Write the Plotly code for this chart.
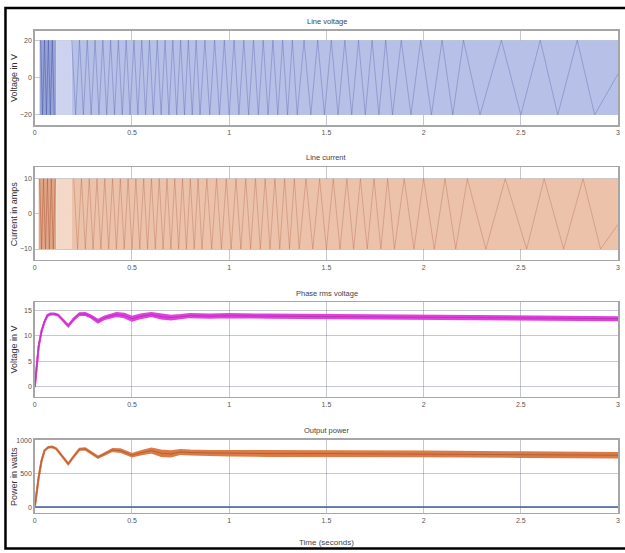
import plotly.graph_objects as go

# ---------------- data ----------------
x_tick_vals = [0, 0.5, 1, 1.5, 2, 2.5, 3]
x_tick_text = ["0", "0.5", "1", "1.5", "2", "2.5", "3"]

# Line voltage: envelope amplitude, band segments, visible zigzag vertices
volt_amp = 20
volt_seg_start = [0.025, 0.11, 0.19]
volt_seg_end = [0.11, 0.19, 3.0]
volt_zig_t = [0.19, 0.21, 0.23, 0.25, 0.27, 0.29, 0.31, 0.33, 0.35, 0.37, 0.39, 0.41,
              0.43, 0.45, 0.47, 0.49, 0.51, 0.53, 0.55, 0.57, 0.59, 0.61, 0.63, 0.65,
              0.67, 0.69, 0.71, 0.73, 0.75, 0.77, 0.79, 0.81, 0.83, 0.85,
              0.875, 0.9, 0.925, 0.95, 0.975, 1.0, 1.025, 1.05, 1.075, 1.1, 1.125,
              1.15, 1.175, 1.2, 1.225, 1.25, 1.275, 1.3, 1.325, 1.35,
              1.385, 1.42, 1.455, 1.49, 1.525, 1.56, 1.595, 1.63, 1.665, 1.7, 1.735,
              1.77, 1.805, 1.84,
              1.885, 1.935, 1.985, 2.04, 2.095, 2.15, 2.205,
              2.29, 2.40, 2.50, 2.60, 2.69, 2.79, 2.88]
volt_end_t = 3.0
volt_end_v = 2
volt_early_t = [0.03, 0.04, 0.05, 0.06, 0.07, 0.08, 0.09, 0.1]
volt_y_ticks = [-20, 0, 20]

# Line current
curr_amp = 10
curr_seg_start = [0.02, 0.11, 0.19]
curr_seg_end = [0.11, 0.19, 3.0]
curr_zig_t = [0.2, 0.22, 0.24, 0.26, 0.28, 0.3, 0.32, 0.34, 0.36, 0.38, 0.4, 0.42,
              0.44, 0.46, 0.48, 0.5, 0.52, 0.54, 0.56, 0.58, 0.6, 0.62, 0.64, 0.66,
              0.68, 0.7, 0.72, 0.74, 0.76, 0.78, 0.8, 0.82, 0.84, 0.86,
              0.885, 0.91, 0.935, 0.96, 0.985, 1.01, 1.035, 1.06, 1.085, 1.11, 1.135,
              1.16, 1.185, 1.21, 1.235, 1.26, 1.285, 1.31, 1.335, 1.36,
              1.395, 1.43, 1.465, 1.5, 1.535, 1.57, 1.605, 1.64, 1.675, 1.71, 1.745,
              1.78, 1.815, 1.85,
              1.9, 1.95, 2.0, 2.055, 2.11, 2.165, 2.225,
              2.32, 2.42, 2.53, 2.62, 2.72, 2.82, 2.91]
curr_end_t = 3.0
curr_end_v = -3
curr_early_t = [0.025, 0.035, 0.045, 0.055, 0.065, 0.075, 0.085, 0.095, 0.105]
curr_y_ticks = [-10, 0, 10]

# Phase rms voltage
rms_t = [0, 0.01, 0.02, 0.035, 0.05, 0.065, 0.08, 0.1, 0.12, 0.14, 0.172, 0.2, 0.23,
         0.26, 0.29, 0.325, 0.36, 0.42, 0.46, 0.5, 0.55, 0.6, 0.65, 0.7, 0.75, 0.8,
         0.9, 1.0, 1.2, 1.5, 2.0, 2.5, 3.0]
rms_mid = [0, 4, 8, 11, 12.8, 14.0, 14.3, 14.3, 14.1, 13.3, 12.0, 13.3, 14.3, 14.3,
           13.8, 12.9, 13.6, 14.2, 14.0, 13.4, 13.9, 14.2, 13.8, 13.6, 13.8, 14.0,
           13.9, 14.0, 13.9, 13.8, 13.7, 13.6, 13.4]
rms_half = [0.05, 0.05, 0.05, 0.05, 0.05, 0.1, 0.1, 0.1, 0.1, 0.1, 0.15, 0.15, 0.15,
            0.2, 0.2, 0.25, 0.25, 0.3, 0.35, 0.4, 0.35, 0.3, 0.35, 0.35, 0.3, 0.3,
            0.3, 0.3, 0.3, 0.3, 0.3, 0.3, 0.3]
rms_y_ticks = [0, 5, 10, 15]

# Output power
power_t = [0, 0.01, 0.02, 0.035, 0.05, 0.07, 0.09, 0.11, 0.14, 0.172, 0.2, 0.23, 0.26,
           0.29, 0.325, 0.36, 0.4, 0.44, 0.5, 0.55, 0.6, 0.65, 0.7, 0.75, 0.8, 0.9,
           1.0, 1.2, 1.5, 2.0, 2.5, 3.0]
power_mid = [0, 250, 450, 700, 850, 900, 905, 880, 760, 650, 760, 870, 875, 820, 750,
             800, 860, 850, 780, 820, 850, 810, 800, 830, 820, 815, 810, 805, 805, 800,
             790, 780]
power_half = [3, 3, 3, 3, 4, 5, 5, 5, 5, 6, 6, 8, 10, 10, 10, 12, 15, 20, 20, 25, 30,
              40, 40, 30, 30, 30, 35, 35, 35, 35, 35, 35]
power_ref_t = [0, 3]
power_ref_v = [0, 0]
power_y_ticks = [0, 500, 1000]

panel_titles = ["Line voltage", "Line current", "Phase rms voltage", "Output power"]
y_titles = ["Voltage in V", "Current in amps", "Voltage in V", "Power in watts"]
x_title = "Time (seconds)"

# ---------------- layout helpers ----------------
W, H = 625, 553
FONT = "Liberation Sans, Arial, sans-serif"
X_LEFT, X_RIGHT = 33, 620

def py(p):
    return 1 - p / H

def px(p):
    return p / W

panels = [  # (top px, bottom px, y range)
    (28, 123, [-25.6, 25.0]),
    (165, 258, [-13.0, 13.3]),
    (301, 396, [-1.96, 16.6]),
    (439, 512.5, [-85, 1015]),
]
title_y = [19, 155, 292, 430]

fig = go.Figure()

def band(seg_s, seg_e, amp, colors, ax):
    for s, e, c in zip(seg_s, seg_e, colors):
        fig.add_trace(go.Scatter(x=[s, e, e, s, s], y=[amp, amp, -amp, -amp, amp],
                                 fill="toself", fillcolor=c, mode="lines",
                                 line=dict(width=0), hoverinfo="skip",
                                 xaxis="x" + ax, yaxis="y" + ax, showlegend=False))

def zigzag(ts, amp, end_t, end_v, color, ax, width=1.0):
    xs = list(ts) + [end_t]
    ys = [amp if i % 2 == 0 else -amp for i in range(len(ts))] + [end_v]
    fig.add_trace(go.Scatter(x=xs, y=ys, mode="lines", line=dict(color=color, width=width),
                             hoverinfo="skip", xaxis="x" + ax, yaxis="y" + ax,
                             showlegend=False))

def early(ts, amp, color, ax):
    ys = [amp if i % 2 == 0 else -amp for i in range(len(ts))]
    fig.add_trace(go.Scatter(x=ts, y=ys, mode="lines", line=dict(color=color, width=1),
                             hoverinfo="skip", xaxis="x" + ax, yaxis="y" + ax,
                             showlegend=False))

# Panel 1 - line voltage
band(volt_seg_start, volt_seg_end, volt_amp, ["#98a4d8", "#cdd3ef", "#b7c0e7"], "")
early(volt_early_t, volt_amp, "rgba(70,85,165,0.5)", "")
zigzag(volt_zig_t, volt_amp, volt_end_t, volt_end_v, "rgba(80,95,170,0.36)", "")

# Panel 2 - line current
band(curr_seg_start, curr_seg_end, curr_amp, ["#e0a688", "#f3d8c8", "#ecc2ab"], "2")
early(curr_early_t, curr_amp, "rgba(170,85,50,0.45)", "2")
zigzag(curr_zig_t, curr_amp, curr_end_t, curr_end_v, "rgba(170,95,60,0.33)", "2")

# Panel 3 - rms voltage (ripple band)
rms_hi = [m + h for m, h in zip(rms_mid, rms_half)]
rms_lo = [m - h for m, h in zip(rms_mid, rms_half)]
fig.add_trace(go.Scatter(x=rms_t, y=rms_lo, mode="lines", line=dict(color="#e23fe0", width=2),
                         xaxis="x3", yaxis="y3", showlegend=False, hoverinfo="skip"))
fig.add_trace(go.Scatter(x=rms_t, y=rms_hi, mode="lines", line=dict(color="#e23fe0", width=2),
                         fill="tonexty", fillcolor="#e23fe0",
                         xaxis="x3", yaxis="y3", showlegend=False, hoverinfo="skip"))
fig.add_trace(go.Scatter(x=rms_t, y=rms_mid, mode="lines", line=dict(color="rgba(120,40,120,0.4)", width=1),
                         xaxis="x3", yaxis="y3", showlegend=False, hoverinfo="skip"))

# Panel 4 - output power
p_hi = [m + h for m, h in zip(power_mid, power_half)]
p_lo = [m - h for m, h in zip(power_mid, power_half)]
fig.add_trace(go.Scatter(x=power_ref_t, y=power_ref_v, mode="lines",
                         line=dict(color="#3f5f9a", width=1.6),
                         xaxis="x4", yaxis="y4", showlegend=False, hoverinfo="skip"))
fig.add_trace(go.Scatter(x=power_t, y=p_lo, mode="lines", line=dict(color="#dd7a45", width=2),
                         xaxis="x4", yaxis="y4", showlegend=False, hoverinfo="skip"))
fig.add_trace(go.Scatter(x=power_t, y=p_hi, mode="lines", line=dict(color="#dd7a45", width=2),
                         fill="tonexty", fillcolor="#dd7a45",
                         xaxis="x4", yaxis="y4", showlegend=False, hoverinfo="skip"))
fig.add_trace(go.Scatter(x=power_t, y=power_mid, mode="lines", line=dict(color="rgba(110,60,40,0.4)", width=1),
                         xaxis="x4", yaxis="y4", showlegend=False, hoverinfo="skip"))

y_ticks_all = [volt_y_ticks, curr_y_ticks, rms_y_ticks, power_y_ticks]

layout = dict(
    width=W, height=H, margin=dict(l=0, r=0, t=0, b=0),
    paper_bgcolor="white", plot_bgcolor="white",
    font=dict(family=FONT, size=7, color="#444"),
    showlegend=False, hovermode=False,
)
annotations = []
for i, (top, bot, yr) in enumerate(panels):
    sfx = "" if i == 0 else str(i + 1)
    layout["xaxis" + sfx] = dict(
        domain=[px(X_LEFT), px(X_RIGHT)], range=[0, 3], anchor="y" + sfx,
        tickvals=x_tick_vals, ticktext=x_tick_text, showgrid=True,
        gridcolor="rgba(110,115,140,0.4)", gridwidth=1, zeroline=False,
        showline=True, mirror=True, linecolor="#a6a6a6", linewidth=1.5,
        ticks="", layer="above traces", tickfont=dict(size=7, color="#555"),
    )
    layout["yaxis" + sfx] = dict(
        domain=[py(bot), py(top)], range=yr, anchor="x" + sfx,
        tickvals=y_ticks_all[i], showgrid=True,
        gridcolor="rgba(110,115,140,0.4)", gridwidth=1, zeroline=False,
        showline=True, mirror=True, linecolor="#a6a6a6", linewidth=1.5,
        ticks="", layer="above traces", tickfont=dict(size=7, color="#555"),
    )
    annotations.append(dict(text=panel_titles[i], x=px(327), y=py(title_y[i]),
                            xref="paper", yref="paper", showarrow=False,
                            font=dict(size=7.5, color="#444"), xanchor="center", yanchor="middle"))
    annotations.append(dict(text=y_titles[i], x=px(12), y=py((top + bot) / 2),
                            xref="paper", yref="paper", showarrow=False, textangle=-90,
                            font=dict(size=9, color="#333"), xanchor="center", yanchor="middle"))

annotations.append(dict(text=x_title, x=px(327), y=py(542), xref="paper", yref="paper",
                        showarrow=False, font=dict(size=8, color="#444"),
                        xanchor="center", yanchor="middle"))
layout["annotations"] = annotations
layout["shapes"] = [dict(type="rect", xref="paper", yref="paper",
                         x0=px(3.5), x1=1.02, y0=py(548.5), y1=py(5),
                         line=dict(color="black", width=2.5))]
fig.update_layout(**layout)

fig.write_html("out.html", config={"displayModeBar": False, "staticPlot": True},
               post_script="document.body.style.margin='0';document.body.style.overflow='hidden';")
